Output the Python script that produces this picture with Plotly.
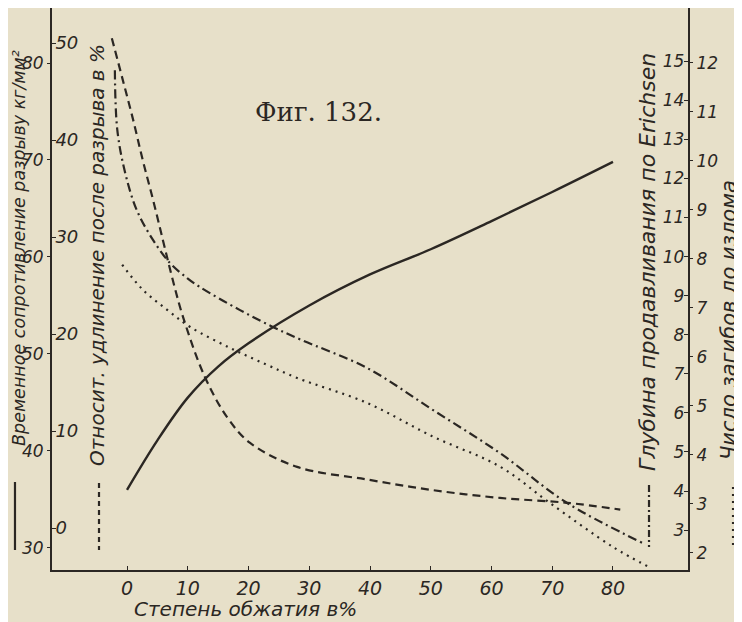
import plotly.graph_objects as go

# ---- data ----
strength_x = [0, 5, 10, 15, 20, 30, 40, 50, 60, 70, 80]
strength_y = [36.0, 41.1, 45.5, 48.7, 51.1, 55.0, 58.2, 60.8, 63.7, 66.7, 69.8]

elong_x = [-2.5, -0.7, 1.0, 2.6, 4.3, 5.9, 7.4, 9.2, 12.8, 16.5, 20.2, 28.0, 39.5, 50.4, 61.4, 72.4, 81.2]
elong_y = [50.5, 46.2, 42.1, 37.9, 33.8, 29.7, 25.9, 21.8, 15.6, 11.4, 8.8, 6.3, 5.0, 3.9, 3.1, 2.6, 1.9]

erich_x = [-2.0, -1.6, -0.3, 1.6, 4.3, 7.1, 9.9, 12.0, 18.6, 24.0, 28.5, 39.5, 50.4, 61.4, 72.4, 84.9]
erich_y = [14.77, 13.24, 12.14, 11.19, 10.42, 9.83, 9.45, 9.22, 8.63, 8.20, 7.88, 7.15, 6.07, 4.97, 3.70, 2.67]

bend_x = [-0.8, 2.6, 6.6, 10.4, 17.0, 23.0, 28.0, 39.5, 50.4, 61.4, 69.6, 80.0, 86.1]
bend_y = [7.88, 7.37, 6.96, 6.61, 6.18, 5.84, 5.57, 5.06, 4.37, 3.76, 3.02, 2.12, 1.70]

x_ticks = [0, 10, 20, 30, 40, 50, 60, 70, 80]
strength_ticks = [30, 40, 50, 60, 70, 80]
elong_ticks = [0, 10, 20, 30, 40, 50]
erich_ticks = list(range(3, 16))
bend_ticks = list(range(2, 13))

INK = "#2b2723"
PAPER = "#e7e0c9"
FONT = "DejaVu Sans"

fig = go.Figure()
fig.add_trace(go.Scatter(x=strength_x, y=strength_y, mode="lines", yaxis="y",
                         line=dict(color=INK, width=2.4, shape="spline"), showlegend=False))
fig.add_trace(go.Scatter(x=elong_x, y=elong_y, mode="lines", yaxis="y2",
                         line=dict(color=INK, width=2.2, dash="8px,5px", shape="spline"), showlegend=False))
fig.add_trace(go.Scatter(x=erich_x, y=erich_y, mode="lines", yaxis="y3",
                         line=dict(color=INK, width=2.2, dash="9px,4px,2px,4px", shape="spline"), showlegend=False))
fig.add_trace(go.Scatter(x=bend_x, y=bend_y, mode="lines", yaxis="y4",
                         line=dict(color=INK, width=2.2, dash="2px,5px", shape="spline"), showlegend=False))

tf_outer = dict(family=FONT, size=17, color=INK, style="italic")
tf_inner = dict(family=FONT, size=18, color=INK, style="italic")
tf_right = dict(family=FONT, size=17, color=INK, style="italic")

# page body has an 8px margin, so the figure is 8px smaller than the window
fig.update_layout(
    width=734, height=614, autosize=False,
    margin=dict(l=44, r=54, t=0, b=52),
    paper_bgcolor=PAPER, plot_bgcolor=PAPER,
    xaxis=dict(domain=[0, 1], range=[-12.35, 92.35], tickvals=x_ticks,
               showline=True, linecolor=INK, linewidth=2, ticks="inside", ticklen=4,
               tickcolor=INK, showgrid=False, zeroline=False,
               tickfont=dict(family=FONT, size=19, color=INK, style="italic")),
    yaxis=dict(range=[27.73, 85.67], tickvals=strength_ticks, side="left",
               showline=True, linecolor=INK, linewidth=2, ticks="outside", ticklen=3,
               tickcolor=INK, showgrid=False, zeroline=False, tickfont=tf_outer),
    yaxis2=dict(range=[-4.33, 53.61], tickvals=elong_ticks, overlaying="y", anchor="x",
                side="left", ticks="inside", ticklen=4, tickcolor=INK,
                ticklabelposition="inside", showline=False, showgrid=False,
                zeroline=False, tickfont=tf_inner),
    yaxis3=dict(range=[1.98, 16.36], tickvals=erich_ticks, overlaying="y", anchor="x",
                side="right", ticks="inside", ticklen=4, tickcolor=INK,
                ticklabelposition="inside", showline=True, linecolor=INK, linewidth=2,
                showgrid=False, zeroline=False, tickfont=tf_right),
    yaxis4=dict(range=[1.65, 13.12], tickvals=bend_ticks, overlaying="y", anchor="x",
                side="right", ticks="outside", ticklen=4, tickcolor=INK,
                showline=False, showgrid=False, zeroline=False, tickfont=tf_right),
)

def vtitle(text, x, y, size):
    fig.add_annotation(text=text, xref="paper", yref="paper", x=x, y=y,
                       textangle=-90, showarrow=False, xanchor="center", yanchor="middle",
                       font=dict(family=FONT, size=size, color=INK, style="italic"))

vtitle("Временное сопротивление разрыву кг/мм²", -0.0519, 0.573, 17.5)
vtitle("Относит. удлинение после разрыва в %", 0.0708, 0.5605, 20)
vtitle("Глубина продавливания по Erichsen", 0.9355, 0.548, 22)
vtitle("Число загибов до излома", 1.0645, 0.4448, 21)

fig.add_annotation(text="Степень обжатия в%", xref="paper", yref="paper", x=0.1258, y=-0.0694,
                   xanchor="left", yanchor="middle", showarrow=False,
                   font=dict(family=FONT, size=20, color=INK, style="italic"))
fig.add_annotation(text="Фиг. 132.", xref="paper", yref="paper", x=0.4198, y=0.815,
                   xanchor="center", yanchor="middle", showarrow=False,
                   font=dict(family="DejaVu Serif", size=26, color=INK))

# legend keys under the axis titles
keys = [(-0.0582, 0.1566, 0.0356, "solid"),
        (0.0739, 0.1548, 0.0356, "5px,4px"),
        (0.9387, 0.1512, 0.0409, "7px,3px,2px,3px"),
        (1.0708, 0.1477, 0.0409, "2px,5px")]
for kx, y0, y1, d in keys:
    fig.add_shape(type="line", xref="paper", yref="paper", x0=kx, x1=kx, y0=y0, y1=y1,
                  line=dict(color=INK, width=2.2, dash=d))

fig.write_html("out.html")
